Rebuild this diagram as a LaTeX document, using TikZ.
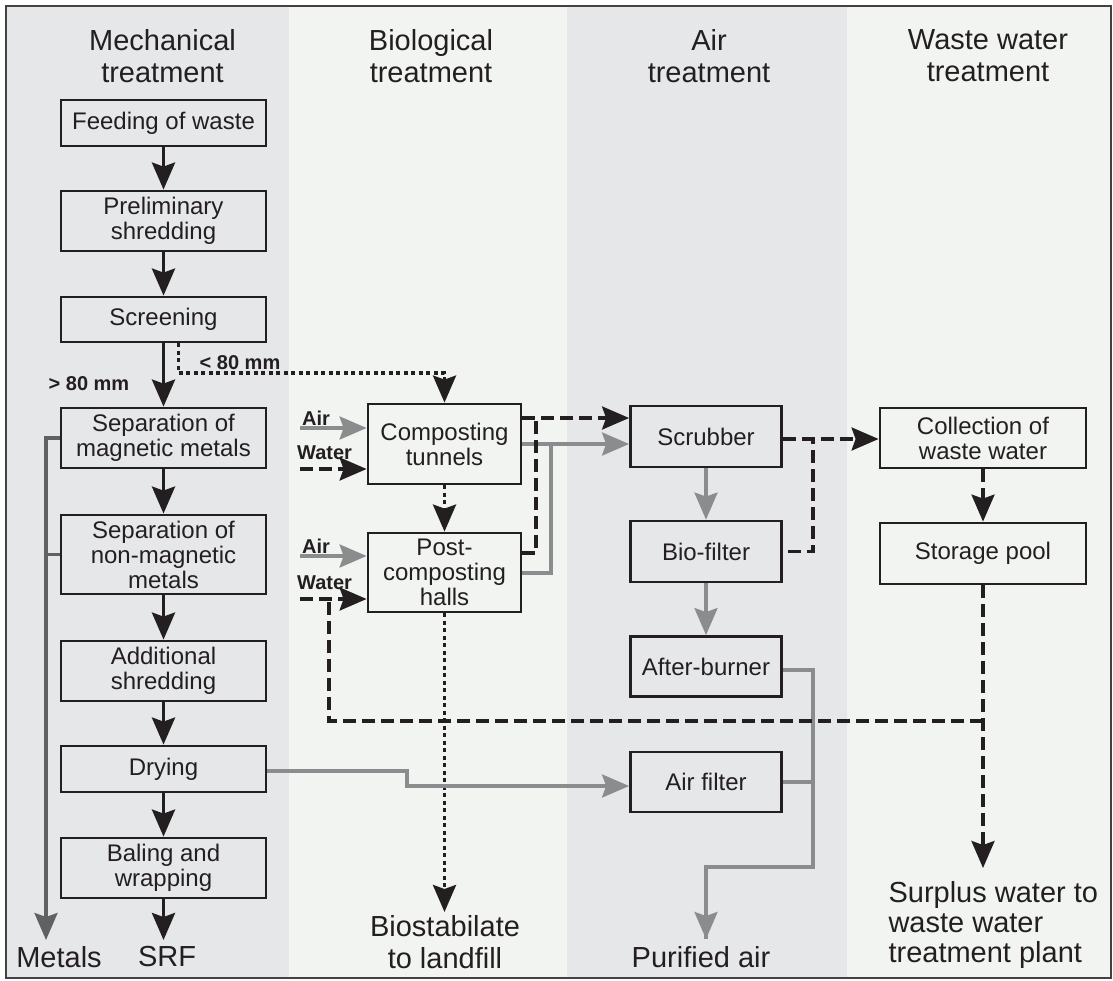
\documentclass[tikz,border=0pt]{standalone}
\usepackage{fontspec}
\setmainfont{Liberation Sans}
\usetikzlibrary{arrows.meta,calc}
\definecolor{ink}{HTML}{231F20}
\definecolor{colA}{HTML}{E6E7E9}
\definecolor{colB}{HTML}{F2F4F2}
\definecolor{grayline}{HTML}{8B8C8E}
\definecolor{metalgray}{HTML}{606163}
\newcommand\boxfont{\fontsize{24}{25}\selectfont}
\newcommand\headfont{\fontsize{29}{32}\selectfont}
\newcommand\lblfont{\bfseries\fontsize{20}{21}\selectfont}
\begin{document}
\begin{tikzpicture}[x=1pt,y=-1pt,
  box/.style={draw=ink, line width=2.8pt, align=center, inner sep=0pt, text=ink, font=\boxfont},
  mbox/.style={box, minimum width=205pt},
  abox/.style={box, minimum width=151pt},
  head/.style={align=center, text=ink, font=\headfont},
  endlbl/.style={align=center, text=ink, font=\headfont},
  lbl/.style={text=ink, font=\lblfont, inner sep=0pt},
  tip/.style={-{Stealth[length=27pt,width=23pt,inset=4pt]}},
  blk/.style={draw=ink, line width=3.8pt, tip},
  gryarr/.style={draw=grayline, line width=3.4pt, tip},
  gryln/.style={draw=grayline, line width=3.4pt},
  metarr/.style={draw=metalgray, line width=3.4pt, tip},
  metln/.style={draw=metalgray, line width=3.4pt},
  dashln/.style={draw=ink, line width=3.4pt, dash pattern=on 13pt off 6pt},
  dasharr/.style={dashln, tip},
  dotln/.style={draw=ink, line width=3.6pt, dash pattern=on 4pt off 3.5pt},
  dotarr/.style={dotln, tip}
]
\useasboundingbox (0,0) rectangle (1113,980);
% column backgrounds
\fill[colA] (6,6) rectangle (289,978);
\fill[colB] (289,6) rectangle (567,978);
\fill[colA] (567,6) rectangle (847,978);
\fill[colB] (847,6) rectangle (1111,978);
\draw[draw=ink!85, line width=1.2pt] (6,6) rectangle (1111,978);

% headers
\node[head] (hM) at (162.5,56) {Mechanical\\treatment};
\node[head] (hB) at (431,56) {Biological\\treatment};
\node[head] (hA) at (709,56) {Air\\treatment};
\node[head] (hW) at (988,56) {Waste water\\treatment};

% mechanical boxes
\node[mbox, minimum height=46pt] (feed) at (163.5,123) {Feeding of waste};
\node[mbox, minimum height=60pt] (prelim) at (163.5,221) {Preliminary\\shredding};
\node[mbox, minimum height=45pt] (screen) at (163.5,319.5) {Screening};
\node[mbox, minimum height=60pt] (mag) at (163.5,438) {Separation of\\magnetic metals};
\node[mbox, minimum height=79pt] (nonmag) at (163.5,554.5) {Separation of\\non-magnetic\\metals};
\node[mbox, minimum height=60pt] (addsh) at (163.5,671) {Additional\\shredding};
\node[mbox, minimum height=46pt] (dry) at (163.5,769) {Drying};
\node[mbox, minimum height=60pt] (bale) at (163.5,868) {Baling and\\wrapping};

% biological boxes
\node[box, minimum width=153pt, minimum height=80pt] (tun) at (444.5,444) {Composting\\tunnels};
\node[box, minimum width=153pt, minimum height=79pt] (halls) at (444.5,572.5) {Post-\\composting\\halls};

% air boxes
\node[abox, minimum height=61pt] (scrub) at (706,436.5) {Scrubber};
\node[abox, minimum height=61pt] (biof) at (706,551.5) {Bio-filter};
\node[abox, minimum height=60pt] (after) at (706,666.5) {After-burner};
\node[abox, minimum height=60pt] (afilt) at (706,782) {Air filter};

% waste water boxes
\node[box, minimum width=206pt, minimum height=60pt] (coll) at (983,438) {Collection of\\waste water};
\node[box, minimum width=206pt, minimum height=61pt] (stor) at (983,553.5) {Storage pool};

% end labels
\node[endlbl] (metals) at (59,957) {Metals};
\node[endlbl] (srf) at (167,957) {SRF};
\node[endlbl] (biost) at (445,942) {Biostabilate\\to landfill};
\node[endlbl] (pure) at (701,957) {Purified air};
\node[endlbl, align=left, anchor=west, font=\fontsize{29}{30}\selectfont] (surp) at (885,925) {Surplus water to\\waste water\\treatment plant};

% small labels
\node[lbl, anchor=base] (gt) at (89,390) {> 80 mm};
\node[lbl, anchor=base] (lt) at (240,369) {< 80 mm};
\node[lbl, anchor=base west] (air1) at (302,425) {Air};
\node[lbl, anchor=base west] (wat1) at (297,459) {Water};
\node[lbl, anchor=base west] (air2) at (302,553) {Air};
\node[lbl, anchor=base west] (wat2) at (297,589) {Water};

% coordinates
\coordinate (srftip) at (163.5,940);
\coordinate (mtip) at (46,940);
\coordinate (yDot) at (0,373);
\coordinate (aIn1) at (300,428);
\coordinate (wIn1) at (300,469);
\coordinate (aIn2) at (300,556);
\coordinate (wIn2) at (300,599);
\coordinate (yD1) at (0,418);
\coordinate (yG1) at (0,444);
\coordinate (jD) at (536,418);
\coordinate (jG) at (551,444);
\coordinate (yHD) at (0,553);
\coordinate (yHG) at (0,573);
\coordinate (yS) at (0,439);
\coordinate (jS) at (813,439);
\coordinate (bsTip) at (444.5,912);
\coordinate (wTip) at (983,868);
\coordinate (retJ) at (983,721);
\coordinate (retL) at (329,599);
\coordinate (dryJ) at (407,771);
\coordinate (yAF) at (0,786);
\coordinate (abJ) at (813,867);
\coordinate (paTip) at (706,939);
\coordinate (yAB) at (0,670);

% mechanical flow
\draw[blk] (feed) -- (prelim);
\draw[blk] (prelim) -- (screen);
\draw[blk] (screen) -- (mag);
\draw[blk] (mag) -- (nonmag);
\draw[blk] (nonmag) -- (addsh);
\draw[blk] (addsh) -- (dry);
\draw[blk] (dry) -- (bale);
\draw[blk] (bale) -- (srftip);

% metals
\draw[metarr] (mag.west) -| (mtip);
\draw[metln] (nonmag.west) -- (nonmag.west -| mtip);

% fine fraction (dotted)
\draw[dotarr] ([xshift=15pt]screen.south) |- (tun.north |- yDot) -- (tun.north);
\draw[dotarr] (tun) -- (halls);
\draw[dotarr] (halls.south) -- (bsTip);

% inputs to biological
\draw[gryarr] (aIn1) -- (tun.west |- aIn1);
\draw[dasharr] (wIn1) -- (tun.west |- wIn1);
\draw[gryarr] (aIn2) -- (halls.west |- aIn2);
\draw[dasharr] (wIn2) -- (halls.west |- wIn2);

% biological to air treatment
\draw[dasharr] (tun.east |- yD1) -- (scrub.west |- yD1);
\draw[gryarr] (tun.east |- yG1) -- (scrub.west |- yG1);
\draw[dashln] (halls.east |- yHD) -| (jD);
\draw[gryln] (halls.east |- yHG) -| (jG);

% air treatment chain
\draw[gryarr] (scrub) -- (biof);
\draw[gryarr] (biof) -- (after);
\draw[gryln] (after.east |- yAB) -| (abJ) -| (paTip);
\draw[gryarr] (abJ -| paTip) -- (paTip);
\draw[gryln] (afilt.east) -- (afilt.east -| abJ);

% drying exhaust
\draw[gryarr] (dry.east |- dryJ) -- (dryJ) |- (afilt.west |- yAF);

% waste water
\draw[dasharr] (scrub.east |- yS) -- (coll.west |- yS);
\draw[dashln] ([xshift=5pt]biof.east) -| (jS);
\draw[dasharr] (coll) -- (stor);
\draw[dasharr] (stor.south) -- (wTip);
\draw[dashln] (retJ) -| (retL);
\end{tikzpicture}
\end{document}
